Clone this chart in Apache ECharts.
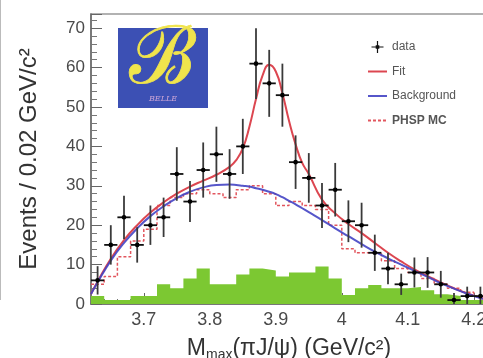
<!DOCTYPE html>
<html>
<head>
<meta charset="utf-8">
<script src="https://cdn.jsdelivr.net/npm/echarts@6/dist/echarts.min.js"></script>
<style>html,body{margin:0;padding:0;background:#fff}#chart{width:483px;height:358px}</style>
</head>
<body>
<div id="chart"></div>
<script>
// binning of the M_max(pi J/psi) histogram
var binStart = 3.62;
var binWidth = 0.02;
var nBins = 30;

// data points (events per bin) and their errors
var dataCounts = [6, 15, 22, 15, 20, 22, 33, 26, 34, 38, 33, 40, 61, 56, 53, 36, 32, 25, 29, 21, 20, 13, 9, 5, 8, 8, 5, 1, 2, 2];
var dataErrors = [3.6, 5, 5.5, 4.5, 5, 5, 6.8, 5.2, 7, 7, 6.3, 7, 9, 8.5, 8, 6.8, 6.3, 5.7, 6.8, 5.3, 5.7, 4.6, 4, 2.7, 3.8, 3.9, 3.4, 1.8, 2.4, 2.4];

// phase space MC (dashed) and sideband histogram (green)
var phspMC = [5, 7, 12, 16, 19, 25, 27, 28, 29, 28, 27, 29, 30, 28, 25, 26, 25, 24, 20, 14, 13, 13, 11, 9, 8, 6.5, 5, 4, 3, 2];
var sideband = [2, 1, 1, 2, 2, 5, 4, 6.5, 9, 5, 5, 7.5, 9, 8.5, 7, 8, 8, 9.5, 6.5, 2.3, 4, 4.8, 4, 4, 4.3, 3.5, 2.5, 2, 1, 1];

// fit curves
var curveMass = [3.62, 3.63, 3.65, 3.67, 3.69, 3.71, 3.73, 3.75, 3.77, 3.79, 3.81, 3.83, 3.84, 3.85, 3.86, 3.87, 3.88, 3.89, 3.90, 3.91, 3.92, 3.93, 3.94, 3.95, 3.97, 3.99, 4.01, 4.03, 4.05, 4.07, 4.09, 4.11, 4.13, 4.15, 4.17, 4.19, 4.21, 4.22];
var fitCurve = [2.5, 5.7, 11.5, 16.2, 20, 23.2, 25.8, 28, 29.8, 31.3, 32.8, 34.8, 36.5, 39.5, 45, 52, 58, 60.7, 59, 53.5, 46.5, 40.5, 35.8, 33, 26.5, 23, 20.3, 18, 15.5, 13, 10.8, 8.8, 7.1, 5.5, 4, 2.7, 1.6, 1.2];
var bkgCurve = [2.5, 5.5, 11, 15.5, 19.2, 22.3, 24.8, 26.9, 28.5, 29.6, 30.2, 30.3, 30.2, 30, 29.8, 29.4, 29, 28.5, 27.9, 27.1, 26.2, 25.3, 24.3, 23.3, 21.3, 19.2, 17.2, 15.2, 13.3, 11.6, 10, 8.4, 6.9, 5.3, 3.9, 2.6, 1.5, 1.1];

var xTickLabels = [3.7, 3.8, 3.9, 4.0, 4.1, 4.2];

function edge(i) { return +(binStart + i * binWidth).toFixed(2); }

function stepData(vals) {
    var out = [];
    for (var i = 0; i < nBins; i++) out.push([edge(i), vals[i]]);
    out.push([edge(nBins), vals[nBins - 1]]);
    return out;
}

var points = dataCounts.map(function (v, i) {
    return [+(edge(i) + binWidth / 2).toFixed(3), v, dataErrors[i]];
});

function renderPoint(params, api) {
    var x = api.value(0), y = api.value(1), e = api.value(2);
    var c = api.coord([x, y]);
    var t = api.coord([x, y + e]);
    var b = api.coord([x, Math.max(0, y - e)]);
    var l = api.coord([x - binWidth / 2, y]);
    var r = api.coord([x + binWidth / 2, y]);
    return {
        type: 'group',
        children: [
            { type: 'line', shape: { x1: c[0], y1: t[1], x2: c[0], y2: b[1] }, style: { stroke: '#3a3a3a', lineWidth: 1.8 } },
            { type: 'line', shape: { x1: l[0], y1: c[1], x2: r[0], y2: c[1] }, style: { stroke: '#111', lineWidth: 1.8 } },
            { type: 'circle', shape: { cx: c[0], cy: c[1], r: 2.3 }, style: { fill: '#000' } }
        ]
    };
}

var hideSymbol = { opacity: 0 };

var myChart = echarts.init(document.getElementById('chart'));
var option = {
    animation: false,
    grid: { left: 91, top: 14, bottom: 54, right: -4, outerBoundsMode: 'none', show: true, borderColor: '#999', borderWidth: 1.5 },
    legend: {
        orient: 'vertical',
        left: 367,
        top: 41,
        padding: 0,
        itemWidth: 19,
        itemHeight: 12,
        itemGap: 12.5,
        textStyle: { fontFamily: 'Liberation Sans', fontSize: 12, color: '#555' },
        data: [
            { name: 'data', icon: 'path://M0,9H20V11H0Z M9,0H11V20H9Z M7,7H13V13H7Z', itemStyle: { color: '#111' } },
            { name: 'Fit', itemStyle: hideSymbol },
            { name: 'Background', itemStyle: hideSymbol },
            { name: 'PHSP MC', itemStyle: hideSymbol, textStyle: { fontWeight: 'bold' } }
        ]
    },
    xAxis: [{
        type: 'value',
        min: binStart,
        max: edge(nBins),
        name: '{m|M}{s|max}{m|(πJ/ψ) (GeV/c²)}',
        nameLocation: 'middle',
        nameGap: 32,
        nameTextStyle: {
            rich: {
                m: { fontFamily: 'Liberation Sans', fontSize: 23, color: '#333', lineHeight: 26 },
                s: { fontFamily: 'Liberation Sans', fontSize: 14, color: '#333', verticalAlign: 'bottom', lineHeight: 22 }
            }
        },
        axisLine: { lineStyle: { color: '#666', width: 1.5 } },
        axisTick: { inside: true, length: 11, customValues: xTickLabels, lineStyle: { color: '#666' } },
        axisLabel: { customValues: xTickLabels, margin: 7, fontFamily: 'Liberation Sans', fontSize: 18, color: '#4a4a4a' },
        splitLine: { show: false }
    }, {
        type: 'value',
        min: binStart,
        max: edge(nBins),
        interval: binWidth,
        position: 'bottom',
        axisLine: { show: false },
        axisTick: { inside: true, length: 5, lineStyle: { color: '#777' } },
        axisLabel: { show: false },
        splitLine: { show: false }
    }],
    yAxis: {
        type: 'value',
        min: 0,
        max: 73.6,
        interval: 10,
        name: 'Events / 0.02 GeV/c²',
        nameLocation: 'middle',
        nameGap: 50,
        nameTextStyle: { fontFamily: 'Liberation Sans', fontSize: 24, color: '#333' },
        axisLine: { lineStyle: { color: '#666', width: 1.5 } },
        axisTick: { inside: true, length: 11, lineStyle: { color: '#666' } },
        minorTick: { show: true, splitNumber: 5, length: 6, lineStyle: { color: '#777' } },
        axisLabel: { showMaxLabel: false, margin: 6, fontFamily: 'Liberation Sans', fontSize: 17, color: '#4a4a4a' },
        splitLine: { show: false }
    },
    graphic: [
        { type: 'line', shape: { x1: 0.5, y1: 0, x2: 0.5, y2: 300 }, style: { stroke: '#bbb', lineWidth: 1 } },
        { type: 'rect', shape: { x: 118, y: 28, width: 90, height: 80 }, style: { fill: '#3c50b4' } },
        { type: 'text', x: 162, y: 62, style: { text: 'ℬ', fontFamily: 'DejaVu Serif', fontSize: 80, fill: '#f0e44c', stroke: '#f0e44c', lineWidth: 0.8, align: 'center', verticalAlign: 'middle' } },
        { type: 'text', x: 163, y: 99, style: { text: 'BELLE', fontFamily: 'DejaVu Serif', fontStyle: 'italic', fontSize: 8, fill: '#c9a4d6', align: 'center', verticalAlign: 'middle' } }
    ],
    series: [{
        name: 'sideband',
        type: 'line',
        step: 'end',
        symbol: 'none',
        data: stepData(sideband),
        lineStyle: { width: 0 },
        itemStyle: { color: '#7cc832' },
        areaStyle: { color: '#7cc832', opacity: 1 },
        z: 1
    }, {
        name: 'PHSP MC',
        type: 'line',
        step: 'end',
        symbol: 'none',
        data: stepData(phspMC),
        itemStyle: { color: '#e2565e' },
        lineStyle: { color: '#e2565e', width: 1.5, type: [3, 2] },
        z: 2
    }, {
        name: 'Fit',
        type: 'line',
        smooth: true,
        symbol: 'none',
        data: curveMass.map(function (m, i) { return [m, fitCurve[i]]; }),
        itemStyle: { color: '#dc4650' },
        lineStyle: { color: '#dc4650', width: 2 },
        z: 3
    }, {
        name: 'Background',
        type: 'line',
        smooth: true,
        symbol: 'none',
        data: curveMass.map(function (m, i) { return [m, bkgCurve[i]]; }),
        itemStyle: { color: '#4444c4' },
        lineStyle: { color: '#4444c4', width: 2, opacity: 0.9 },
        z: 4
    }, {
        name: 'data',
        type: 'custom',
        renderItem: renderPoint,
        encode: { x: 0, y: 1 },
        data: points,
        itemStyle: { color: '#111' },
        z: 5
    }]
};
myChart.setOption(option);
</script>
</body>
</html>
